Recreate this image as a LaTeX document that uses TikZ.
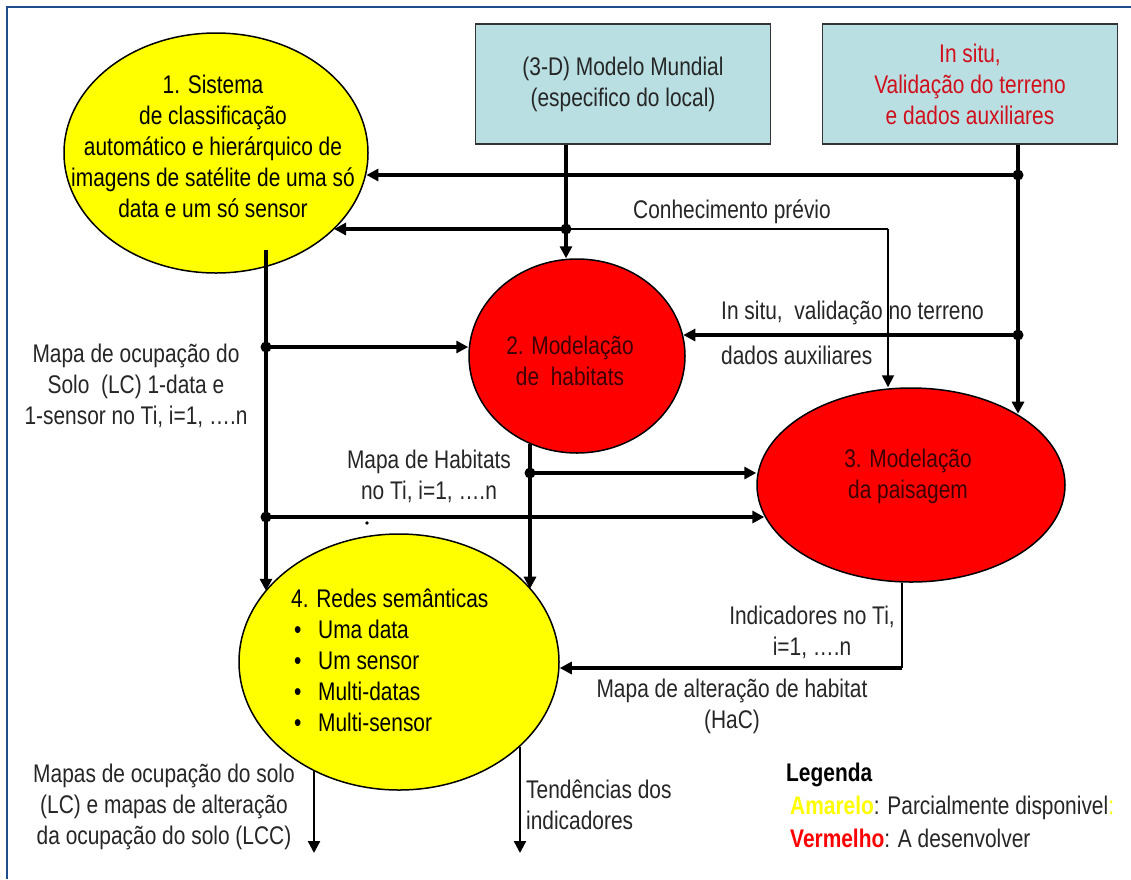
\documentclass[tikz,border=0pt]{standalone}
\usepackage{fontspec}
\setmainfont[FakeStretch=0.82]{Liberation Sans}
\usetikzlibrary{arrows.meta,shapes.geometric}
\definecolor{boxfill}{HTML}{B9DFE2}
\definecolor{framecol}{HTML}{1F4E8C}
\definecolor{txt}{HTML}{262626}
\definecolor{boxred}{HTML}{D0101C}
\definecolor{darkred}{HTML}{3C0000}
\definecolor{yel}{HTML}{FFFF00}
\definecolor{redf}{HTML}{FF0000}
\begin{document}
\begin{tikzpicture}[x=1pt,y=-1pt,
  font=\fontsize{25.5}{31}\selectfont,
  conn/.style={line width=3.3pt},
  thinconn/.style={line width=1.8pt},
  arr/.style={-{Triangle[length=12pt,width=12pt]}},
  lbl/.style={text=txt,align=center,inner sep=0pt},
  boxnode/.style={draw=black!80,line width=1.5pt,fill=boxfill,minimum width=295pt,minimum height=120pt,inner sep=0pt,align=center},
  ell/.style={ellipse,draw=black,line width=1.5pt,inner sep=0pt},
  jdot/.style={fill=black}
]
\useasboundingbox (0,0) rectangle (1131,879);
\fill[white] (0,0) rectangle (1131,879);
\draw[framecol,line width=2pt] (7,879) -- (7,7) -- (1131,7);

% boxes
\node[boxnode,text=txt] (b1) at (623,84) {(3-D) Modelo Mundial\\(especifico do local)};
\node[boxnode,text=boxred] (b2) at (970,84) {In situ,\\Validação do terreno\\e dados auxiliares};

% ellipses
\node[ell,fill=yel,minimum width=304pt,minimum height=240pt] (e1) at (216,153) {};
\node[lbl,text=black] (t1) at (213,146) {1. Sistema\\de classificação\\automático e hierárquico de\\imagens de satélite de uma só\\data e um só sensor};
\node[ell,fill=redf,minimum width=216pt,minimum height=194pt] (e2) at (577,356) {};
\node[lbl,text=darkred] (t2) at (570,361) {2. Modelação\\de\ \ habitats};
\node[ell,fill=redf,minimum width=308pt,minimum height=194pt] (e3) at (911,485) {};
\node[lbl,text=darkred] (t3) at (908,476) {3. Modelação\\da paisagem};
\node[ell,fill=yel,minimum width=320pt,minimum height=256pt] (e4) at (399,662) {};
\node[lbl,text=black,align=left,anchor=west] (t4) at (291,660) {4. Redes semânticas\\
\hspace*{3pt}\makebox[24pt][l]{•}Uma data\\
\hspace*{3pt}\makebox[24pt][l]{•}Um sensor\\
\hspace*{3pt}\makebox[24pt][l]{•}Multi-datas\\
\hspace*{3pt}\makebox[24pt][l]{•}Multi-sensor};

% junctions and corners
\coordinate (jA) at (1018,175);
\coordinate (jB) at (566,229);
\coordinate (jC) at (1018,335);
\coordinate (jD) at (266,347);
\coordinate (jE) at (266,517);
\coordinate (jF) at (530,473);
\coordinate (cK) at (888,229);
\coordinate (cI) at (902,668);
\coordinate (s1) at (266,250);
\coordinate (o1) at (314,853);
\coordinate (o2) at (520,853);
\coordinate (sd) at (367,523);

% connectors
\draw[conn,arr] (b2.south -| jA) -- (jA) -- (jA |- e3.34);
\draw[conn,arr] (jA) -- (e1.-8 |- jA);
\draw[conn,arr] (b1.south -| jB) -- (jB) -- (jB |- e2.north);
\draw[conn,arr] (jB) -- (e1.-33 |- jB);
\draw[line width=1.4pt] (jB) -- (cK);
\draw[thinconn,arr] (cK) -- (cK |- e3.north);
\draw[conn,arr] (jC) -- (e2.11 |- jC);
\draw[conn,arr] (s1) -- (jD) -- (jE) -- (jE |- e4.152);
\draw[conn,arr] (jD) -- (e2.west |- jD);
\draw[conn,arr] (jE) -- (e3.192 |- jE);
\draw[conn,arr] (jF |- e2.242) -- (jF) -- (jF |- e4.29);
\draw[conn,arr] (jF) -- (e3.west |- jF);
\draw[line width=1.5pt] (cI |- e3.south) -- (cI);
\draw[conn,arr] (cI) -- (e4.east |- cI);
\draw[line width=2.4pt,arr] (e4.232 -| o1) -- (o1);
\draw[line width=2.4pt,arr] (e4.-35 -| o2) -- (o2);

\foreach \j in {jA,jB,jC,jD,jE,jF} \fill[jdot] (\j) circle[radius=5.5pt];
\fill[black] (sd) circle[radius=1.8pt];

% labels
\node[lbl] (lk) at (732,212) {Conhecimento prévio};
\node[lbl,anchor=west] (ls1) at (721,313) {In situ,\ \ validação no terreno};
\node[lbl,anchor=west] (ls2) at (721,355) {dados auxiliares};
\node[lbl] (lm) at (136,386) {Mapa de ocupação do\\Solo\ \ (LC) 1-data e\\1-sensor no Ti, i=1, ….n};
\node[lbl] (lh) at (429,476) {Mapa de Habitats\\no Ti, i=1, ….n};
\node[lbl] (li) at (812,632) {Indicadores no Ti,\\i=1, ….n};
\node[lbl] (la) at (732,706) {Mapa de alteração de habitat\\(HaC)};
\node[lbl,align=left,anchor=west] (lt) at (526,805) {Tendências dos\\indicadores};
\node[lbl] (lo) at (164,807) {Mapas de ocupação do solo\\(LC) e mapas de alteração\\da ocupação do solo (LCC)};

% legend
\node[lbl,text=black,anchor=west] (lg) at (786,775) {\bfseries Legenda};
\node[lbl,anchor=west] (lg1) at (790,808) {\textcolor{yel}{\bfseries Amarelo}: Parcialmente disponivel\textcolor{yel}{:}};
\node[lbl,anchor=west] (lg2) at (790,838) {\textcolor{redf}{\bfseries Vermelho}: A desenvolver};
\end{tikzpicture}
\end{document}
